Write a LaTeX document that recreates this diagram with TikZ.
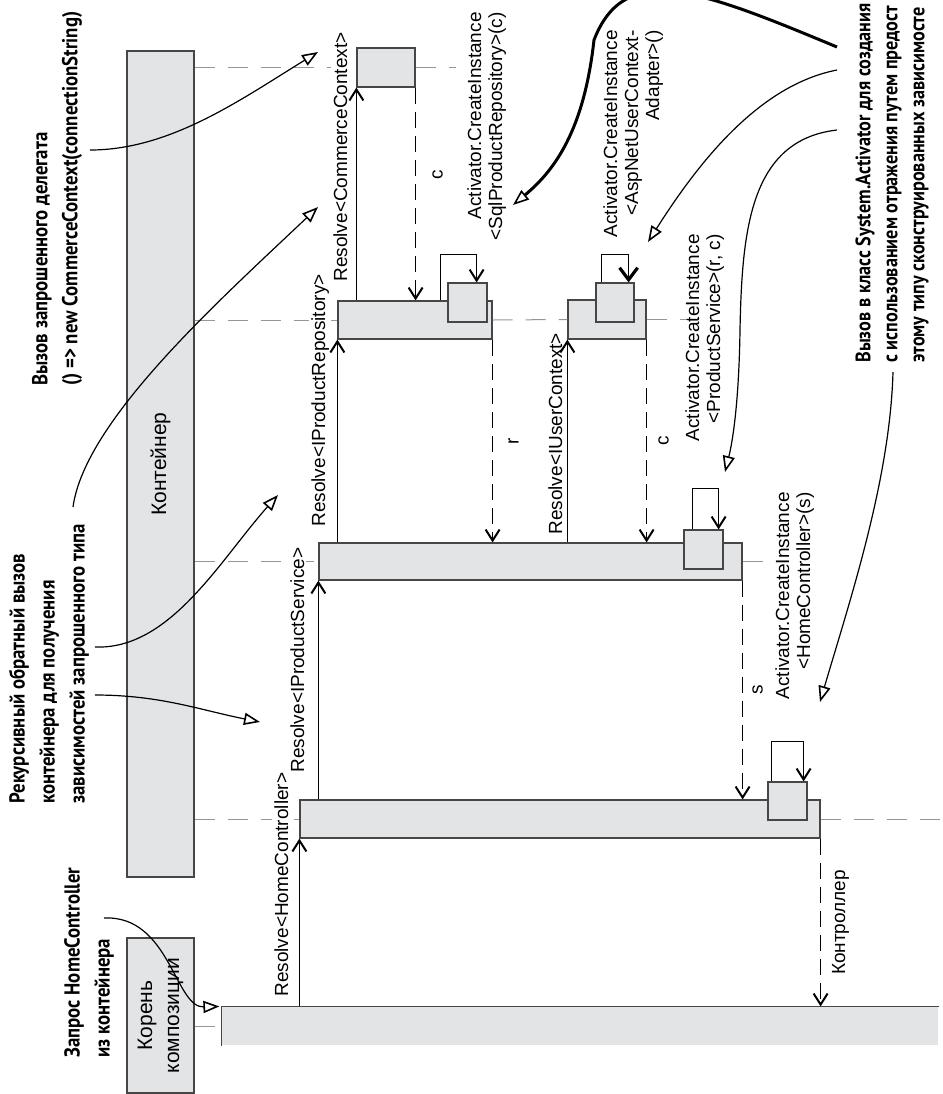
\documentclass[tikz,border=0pt]{standalone}
\usepackage{fontspec}
\setmainfont{Liberation Sans}
\newfontfamily\notefont[FakeStretch=0.87]{PT Sans}
\usepackage{tikz}
\usetikzlibrary{arrows.meta,fit,calc}

\definecolor{boxfill}{RGB}{227,228,229}
\definecolor{boxline}{RGB}{70,70,70}
\definecolor{lifegray}{RGB}{150,150,150}

\tikzset{
  head/.style={draw=boxline,fill=boxfill,line width=0.6pt,inner sep=0pt},
  act/.style={draw=boxline,fill=boxfill,line width=0.6pt,inner sep=0pt},
  life/.style={draw=lifegray,line width=0.5pt,dash pattern=on 10pt off 6.5pt},
  call/.style={line width=0.55pt,-{Straight Barb[length=5.5pt,width=7pt,line width=1pt]}},
  ret/.style={call,dash pattern=on 8pt off 4pt},
  lbl/.style={rotate=90,font=\fontsize{9.5}{10.5}\selectfont,inner sep=1pt},
  bg/.style={fill=white},
  note/.style={rotate=90,font=\notefont\bfseries\fontsize{10.8}{15}\selectfont,align=left,inner sep=0pt},
  pointer/.style={line width=0.6pt,-{Triangle[open,length=8pt,width=6pt,line width=0.8pt]}},
}

\begin{document}
\begin{tikzpicture}[x=0.5pt,y=-0.5pt]
\clip (0,0) rectangle (943,1094);

% lifeline heads
\node[head,fit={(127,938) (194,1093)}] (root) {};
\node[head,fit={(127,51) (194,877)}] (cont) {};
\node[lbl,font=\fontsize{10.5}{13.5}\selectfont,align=center] (rootT) at (root) {Корень\\композиции};
\node[lbl,font=\fontsize{10.5}{13.5}\selectfont] (contT) at (cont) {Контейнер};

% activation boxes
\node[act,draw=none,fit={(222,1007) (938,1045)}] (rootA) {};
\draw[boxline,line width=0.6pt] (rootA.south west) -- (rootA.north west) -- (rootA.north east);
\node[act,fit={(300,800) (820,838)}] (hcA) {};
\node[act,fit={(319,543) (742,580)}] (psA) {};
\node[act,fit={(338,301) (492,339)}] (repoA) {};
\node[act,fit={(568,300) (646,339)}] (userA) {};
\node[act,fit={(357,48) (415,87)}] (ccA) {};

% lifelines
\draw[life] (root.east |- rootA.west) -- (rootA.west);
\draw[life] (cont.east |- hcA.west) -- (hcA.west);
\draw[life] (hcA.east) -- ++(123,0);
\draw[life] (cont.east |- psA.west) -- (psA.west);
\draw[life] (psA.east) -- ++(23,0);
\draw[life] (cont.east |- repoA.west) -- (repoA.west);
\draw[life] (repoA.east) -- (userA.west);
\draw[life] (userA.east) -- ++(44,0);
\draw[life] (cont.east |- ccA.west) -- (ccA.west);
\draw[life] (ccA.east) -- ++(40,0);

% call labels
\node[lbl,bg,anchor=base west] (rHC) at (288,999) {Resolve<HomeController>};
\node[lbl,bg,anchor=base west] (rPS) at (304,775) {Resolve<IProductService>};
\node[lbl,bg,anchor=base west] (rRepo) at (325,529) {Resolve<IProductRepository>};
\node[lbl,bg,anchor=base west] (rCC) at (347,284) {Resolve<CommerceContext>};
\node[lbl,bg,anchor=base west] (rUser) at (562,537) {Resolve<IUserContext>};

\node[lbl,align=right,anchor=north east] (aRepo) at (465,10) {Activator.CreateInstance\\<SqlProductRepository>(c)};
\node[lbl,align=right,anchor=north east] (aUser) at (601,28) {Activator.CreateInstance\\<AspNetUserContext-\\Adapter>()};
\node[lbl,align=right,anchor=north east] (aPS) at (683,232) {Activator.CreateInstance\\<ProductService>(r, c)};
\node[lbl,align=right,anchor=north east] (aHC) at (773,490) {Activator.CreateInstance\\<HomeController>(s)};

% self calls
\node[act,fit={(448,283) (487,322)}] (repoS) {};
\node[act,fit={(596,283) (634,322)}] (userS) {};
\node[act,fit={(684,530) (723,569)}] (psS) {};
\node[act,fit={(768,782) (807,820)}] (hcS) {};
\draw[call] ([xshift=51.5pt]repoA.north west) -- ++(0,-46) -| ([xshift=-5.5pt]repoS.north east);
\draw[call,-{Straight Barb[length=6pt,width=9pt,line width=1.6pt]}] ([xshift=3pt]userS.north west) -- ++(0,-28) -| ([xshift=-3pt]userS.north east);
\draw[call] ([xshift=4.5pt]psS.north west) -- ++(0,-41) -| ([xshift=-2.5pt]psS.north east);
\draw[call] ([xshift=2pt]hcS.north west) -- ++(0,-40) -| ([xshift=-2pt]hcS.north east);

% calls
\draw[call] (rootA.north -| hcA.south west) -- (hcA.south west);
\draw[call] (hcA.north -| psA.south west) -- (psA.south west);
\draw[call] (psA.north -| repoA.south west) -- (repoA.south west);
\draw[call] (repoA.north -| ccA.south west) -- (ccA.south west);
\draw[call] (psA.north -| userA.south west) -- (userA.south west);

% returns
\draw[ret] (ccA.south east) -- (ccA.south east |- repoA.north) node[pos=0.41,xshift=11pt,lbl] (cRet) {c};
\draw[ret] (repoA.south east) -- (repoA.south east |- psA.north) node[midway,xshift=10.5pt,lbl] (rRet) {r};
\draw[ret] (userA.south east) -- (userA.south east |- psA.north) node[midway,xshift=8.5pt,lbl] (uRet) {c};
\draw[ret] (psA.south east) -- (psA.south east |- hcA.north) node[midway,xshift=7.5pt,lbl] (sRet) {s};
\draw[ret] (hcA.south east) -- (hcA.south east |- rootA.north) node[midway,xshift=10pt,lbl] (ctlRet) {Контроллер};

% notes
\node[note,anchor=west] (nQuery) at (89,1058) {Запрос HomeController\\из контейнера};
\node[note,anchor=west] (nRecur) at (49,804) {Рекурсивный обратный вызов\\контейнера для получения\\зависимостей запрошенного типа};
\node[note,anchor=west] (nDeleg) at (57,386) {Вызов запрошенного делегата\\() => new CommerceContext(connectionString)};
\node[note,anchor=west,font=\notefont\bfseries\fontsize{10.45}{13.5}\selectfont] (nAct) at (892,363) {Вызов в класс System.Activator для создания\\с использованием отражения путем предост\\этому типу сконструированных зависимосте};

\coordinate (q0) at (104,918);
\coordinate (r0) at (95,647);
\coordinate (r1) at (95,695);
\coordinate (r2) at (73,507);
\coordinate (d0) at (90,150);
\coordinate (a0) at (837,47);
\coordinate (a1) at (837,70);
\coordinate (a2) at (837,130);
\coordinate (a3) at (893,372);
\coordinate (tPS) at (278,495);
\coordinate (tHC) at (260,722);
\coordinate (tRepo) at (318,207);
\coordinate (tCC) at (318,52);
\coordinate (tSql) at (513,205);
\coordinate (tAsp) at (648,242);
\coordinate (tProd) at (725,472);
\coordinate (tHome) at (820,702);

% pointers from the notes
\draw[pointer] (q0) .. controls (170,915) and (175,1008) .. ([xshift=-1pt]rootA.north west);
\draw[pointer] (r0) .. controls (170,650) and (220,560) .. (tPS);
\draw[pointer] (r1) .. controls (160,695) and (200,710) .. (tHC);
\draw[pointer] (r2) .. controls (85,420) and (220,300) .. (tRepo);
\draw[pointer] (d0) .. controls (170,150) and (240,100) .. (tCC);
\draw[pointer,line width=1.5pt] (a0) .. controls (700,-10) and (625,-40) .. (594,40) .. controls (584,130) and (555,170) .. (tSql);
\draw[pointer] (a1) .. controls (760,85) and (700,160) .. (tAsp);
\draw[pointer] (a2) .. controls (750,140) and (742,230) .. (740,330) .. controls (739,400) and (733,440) .. (tProd);
\draw[pointer] (a3) .. controls (890,480) and (850,600) .. (tHome);
\end{tikzpicture}
\end{document}
